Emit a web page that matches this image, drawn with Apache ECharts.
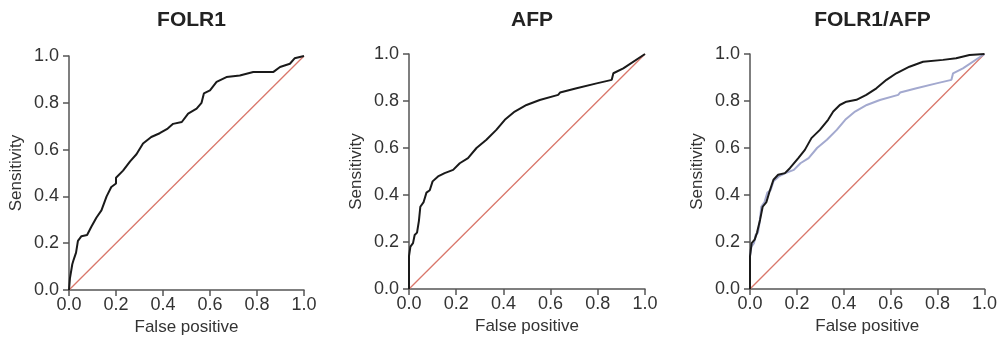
<!DOCTYPE html>
<html><head><meta charset="utf-8">
<script src="https://cdn.jsdelivr.net/npm/echarts@6/dist/echarts.min.js"></script>
<style>html,body{margin:0;padding:0;background:#fff}#c{width:1000px;height:356px}</style>
</head><body><div id="c"></div>
<script>
const titles = ['FOLR1', 'AFP', 'FOLR1/AFP'];
const tickValues = [0, 0.2, 0.4, 0.6, 0.8, 1.0];

const folr1Fpr = [0, 0.004, 0.01, 0.014, 0.02, 0.03, 0.038, 0.053, 0.077, 0.095, 0.117, 0.138, 0.16, 0.18, 0.2, 0.2, 0.23, 0.26, 0.287, 0.315, 0.35, 0.386, 0.42, 0.443, 0.48, 0.507, 0.543, 0.564, 0.574, 0.6, 0.628, 0.67, 0.727, 0.784, 0.87, 0.898, 0.94, 0.96, 1];
const folr1Tpr = [0, 0.05, 0.05, 0.11, 0.13, 0.16, 0.21, 0.23, 0.235, 0.27, 0.31, 0.34, 0.40, 0.44, 0.455, 0.48, 0.51, 0.55, 0.58, 0.626, 0.654, 0.67, 0.69, 0.71, 0.718, 0.754, 0.775, 0.80, 0.84, 0.853, 0.889, 0.91, 0.917, 0.932, 0.932, 0.953, 0.967, 0.99, 1];

const afpFpr = [0, 0, 0.006, 0.017, 0.024, 0.034, 0.042, 0.048, 0.062, 0.074, 0.088, 0.10, 0.123, 0.151, 0.187, 0.215, 0.25, 0.286, 0.328, 0.37, 0.406, 0.448, 0.498, 0.554, 0.632, 0.64, 0.71, 0.795, 0.859, 0.866, 0.908, 1];
const afpTpr = [0, 0.14, 0.18, 0.195, 0.23, 0.24, 0.29, 0.35, 0.37, 0.41, 0.42, 0.458, 0.479, 0.493, 0.507, 0.535, 0.557, 0.60, 0.635, 0.677, 0.72, 0.755, 0.783, 0.804, 0.826, 0.836, 0.854, 0.875, 0.89, 0.918, 0.939, 1];

const comboFpr = [0, 0, 0.007, 0.02, 0.03, 0.043, 0.054, 0.07, 0.085, 0.1, 0.12, 0.149, 0.17, 0.206, 0.234, 0.262, 0.298, 0.333, 0.355, 0.383, 0.411, 0.454, 0.496, 0.539, 0.582, 0.624, 0.68, 0.738, 0.823, 0.879, 0.936, 1];
const comboTpr = [0, 0.14, 0.195, 0.21, 0.24, 0.295, 0.35, 0.37, 0.42, 0.465, 0.486, 0.493, 0.514, 0.557, 0.592, 0.642, 0.677, 0.72, 0.755, 0.783, 0.797, 0.805, 0.826, 0.854, 0.89, 0.918, 0.946, 0.967, 0.975, 0.982, 0.996, 1];

const refFpr = [0, 1];
const refTpr = [0, 1];

function zip(a, b) { return a.map((v, i) => [v, b[i]]); }

const FONT = 'Liberation Sans, Arial, sans-serif';
const grids = [
  {left: 69, top: 56, width: 235, height: 234},
  {left: 409, top: 54, width: 236, height: 235},
  {left: 750, top: 54, width: 235, height: 235}
];
const axisCommon = {
  type: 'value', min: 0, max: 1, interval: 0.2,
  axisLine: {show: true, lineStyle: {color: '#555', width: 1.5}},
  axisTick: {show: true, inside: false, length: 6, lineStyle: {color: '#555', width: 1.5}},
  splitLine: {show: false},
  axisLabel: {color: '#333', fontSize: 18, fontFamily: FONT, formatter: v => v.toFixed(1)},
  nameTextStyle: {color: '#333', fontSize: 17, fontFamily: FONT}
};
const xAxes = grids.map((g, i) => Object.assign({}, axisCommon, {
  gridIndex: i, name: 'False positive', nameLocation: 'middle', nameGap: 26,
  axisLabel: Object.assign({}, axisCommon.axisLabel, {margin: 6})
}));
const yAxes = grids.map((g, i) => Object.assign({}, axisCommon, {
  gridIndex: i, name: 'Sensitivity', nameLocation: 'middle', nameGap: 44,
  axisLabel: Object.assign({}, axisCommon.axisLabel, {margin: 10})
}));
function line(i, data, color, width, z) {
  return {type: 'line', xAxisIndex: i, yAxisIndex: i, data: data, symbol: 'none',
    lineStyle: {color: color, width: width}, z: z, animation: false, silent: true};
}
const series = [];
for (let i = 0; i < 3; i++) series.push(line(i, zip(refFpr, refTpr), '#d9776b', 1.3, 2));
series.push(line(0, zip(folr1Fpr, folr1Tpr), '#1a1a1a', 2, 5));
series.push(line(1, zip(afpFpr, afpTpr), '#1a1a1a', 2, 5));
series.push(line(2, zip(afpFpr, afpTpr), '#a3a9cf', 2, 4));
series.push(line(2, zip(comboFpr, comboTpr), '#1a1a1a', 2, 5));

const chart = echarts.init(document.getElementById('c'), null, {renderer: 'canvas'});
chart.setOption({
  animation: false,
  backgroundColor: '#fff',
  title: titles.map((t, i) => ({
    text: t, left: grids[i].left + grids[i].width / 2, top: 5, textAlign: 'center',
    textStyle: {fontSize: 21, fontWeight: 'bold', color: '#222', fontFamily: FONT}
  })),
  grid: grids,
  xAxis: xAxes,
  yAxis: yAxes,
  series: series
});
</script></body></html>
